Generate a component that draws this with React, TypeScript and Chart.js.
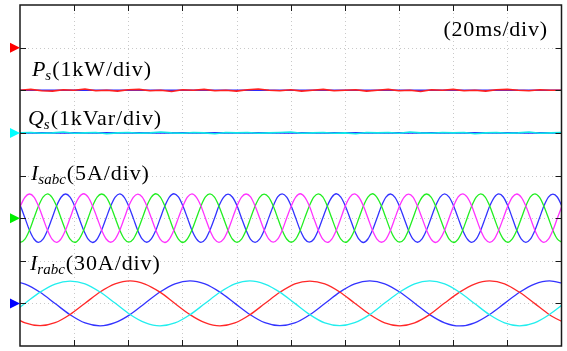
import React, { useEffect, useRef } from 'react';
import { Chart, registerables } from 'chart.js';

Chart.register(...registerables);

const W = 567;
const H = 351;

// ---- axes: 20 ms/div time base (10 div), 8 vertical divisions ----
const timeGridMs = [20, 40, 60, 80, 100, 120, 140, 160, 180];
const levelGridDiv = [-3, -2, -1, 0, 1, 2, 3];
const timeRangeMs = [0, 200];
const levelRangeDiv = [-4, 4];

// channel zero levels (in divisions) and units/div
const psZero = 3;   // Ps, 1 kW/div
const qsZero = 1;   // Qs, 1 kVar/div
const isZero = -1;  // Isabc, 5 A/div
const irZero = -3;  // Irabc, 30 A/div
const psPerDiv = 1;
const qsPerDiv = 1;
const isPerDiv = 5;
const irPerDiv = 30;

// ---- Ps / Qs (kW, kVar) sampled every 4 ms from 0 ms ----
const pqStartMs = 0;
const pqStepMs = 4;
const psMeasured = [
  -1.00, -0.98, -1.01, -1.02, -0.99, -1.00, -0.97, -1.01, -1.00, -1.02,
  -0.99, -0.98, -1.01, -1.00, -1.03, -0.99, -1.00, -0.98, -1.01, -1.00,
  -1.02, -0.99, -0.97, -1.00, -1.01, -0.99, -1.02, -1.00, -0.98, -1.01,
  -1.00, -0.99, -1.02, -1.00, -0.98, -1.01, -1.00, -1.03, -0.99, -1.00,
  -0.98, -1.01, -1.00, -1.02, -0.99, -0.98, -1.00, -1.01, -0.99, -1.00, -1.00,
];
const psReference = [-1.0, -1.0];
const psReferenceMs = [0, 200];
const qsMeasured = [
  0.00, 0.01, -0.01, 0.00, 0.02, -0.01, 0.00, 0.01, -0.02, 0.00,
  0.01, -0.01, 0.00, 0.02, 0.00, -0.01, 0.01, 0.00, -0.02, 0.01,
  0.00, 0.01, -0.01, 0.00, 0.01, 0.02, -0.01, 0.00, 0.01, -0.01,
  0.00, -0.02, 0.01, 0.00, 0.01, -0.01, 0.02, 0.00, -0.01, 0.01,
  0.00, 0.01, -0.02, 0.00, 0.01, -0.01, 0.00, 0.02, -0.01, 0.00, 0.01,
];
const qsReference = [0.0, 0.0];
const qsReferenceMs = [0, 200];

// ---- stator currents Isabc (A), sampled every 20/12 ms from -1.5 ms ----
const isStartMs = -1.5;
const isStepMs = 20 / 12;
const isPhaseA = [
  0.02, 1.43, 2.45, 2.83, 2.47, 1.41, -0.01, -1.43, -2.47, -2.85, -2.44, -1.40,
  0.01, 1.44, 2.47, 2.86, 2.45, 1.40, 0.02, -1.41, -2.45, -2.83, -2.46, -1.43,
  -0.02, 1.41, 2.44, 2.82, 2.46, 1.43, 0.01, -1.42, -2.48, -2.86, -2.45, -1.41,
  0.03, 1.42, 2.47, 2.85, 2.44, 1.42, -0.02, -1.44, -2.46, -2.84, -2.47, -1.42,
  0.00, 1.43, 2.46, 2.83, 2.48, 1.41, 0.01, -1.40, -2.44, -2.82, -2.46, -1.44,
  0.02, 1.40, 2.45, 2.86, 2.46, 1.44, -0.01, -1.42, -2.47, -2.85, -2.45, -1.41,
  -0.01, 1.44, 2.47, 2.84, 2.45, 1.42, 0.02, -1.43, -2.46, -2.83, -2.48, -1.42,
  0.01, 1.42, 2.44, 2.82, 2.47, 1.40, 0.00, -1.41, -2.45, -2.86, -2.44, -1.43,
  0.02, 1.43, 2.48, 2.85, 2.46, 1.43, -0.02, -1.44, -2.47, -2.84, -2.46, -1.40,
  -0.01, 1.41, 2.45, 2.83, 2.44, 1.41, 0.01, -1.42, -2.44, -2.85, -2.47, -1.42,
  0.02, 1.43,
];
const isPhaseB = [
  -2.45, -2.83, -2.47, -1.43, 0.01, 1.42, 2.46, 2.85, 2.44, 1.41, -0.02, -1.42,
  -2.47, -2.85, -2.45, -1.41, 0.02, 1.44, 2.47, 2.83, 2.46, 1.43, 0.01, -1.40,
  -2.44, -2.82, -2.46, -1.42, -0.01, 1.41, 2.45, 2.86, 2.47, 1.42, 0.00, -1.43,
  -2.46, -2.86, -2.44, -1.40, 0.02, 1.43, 2.48, 2.84, 2.45, 1.40, -0.01, -1.44,
  -2.48, -2.84, -2.47, -1.43, 0.00, 1.42, 2.44, 2.82, 2.46, 1.44, 0.02, -1.41,
  -2.45, -2.83, -2.46, -1.42, 0.01, 1.40, 2.46, 2.85, 2.48, 1.42, -0.02, -1.42,
  -2.46, -2.85, -2.45, -1.44, -0.02, 1.43, 2.47, 2.86, 2.44, 1.41, 0.01, -1.43,
  -2.44, -2.82, -2.48, -1.41, 0.01, 1.44, 2.45, 2.83, 2.46, 1.43, 0.00, -1.40,
  -2.47, -2.86, -2.46, -1.42, 0.02, 1.41, 2.46, 2.84, 2.47, 1.42, -0.01, -1.42,
  -2.45, -2.84, -2.44, -1.43, -0.01, 1.42, 2.48, 2.85, 2.45, 1.40, 0.02, -1.44,
  -2.46, -2.83,
];
const isPhaseC = [
  2.47, 1.41, 0.01, -1.43, -2.45, -2.84, -2.47, -1.42, -0.01, 1.43, 2.45, 2.83,
  2.46, 1.43, -0.02, -1.41, -2.47, -2.86, -2.45, -1.40, 0.02, 1.42, 2.47, 2.85,
  2.44, 1.40, 0.00, -1.44, -2.46, -2.83, -2.44, -1.43, 0.01, 1.41, 2.46, 2.86,
  2.48, 1.42, 0.02, -1.42, -2.44, -2.85, -2.47, -1.41, -0.02, 1.44, 2.44, 2.82,
  2.45, 1.44, -0.01, -1.40, -2.48, -2.84, -2.46, -1.44, 0.00, 1.40, 2.48, 2.84,
  2.46, 1.41, 0.01, -1.43, -2.45, -2.82, -2.48, -1.42, 0.01, 1.43, 2.45, 2.86,
  2.47, 1.43, 0.02, -1.41, -2.46, -2.86, -2.45, -1.43, -0.01, 1.42, 2.46, 2.83,
  2.44, 1.40, -0.01, -1.44, -2.47, -2.83, -2.44, -1.40, 0.02, 1.44, 2.47, 2.85,
  2.46, 1.42, 0.00, -1.42, -2.44, -2.85, -2.47, -1.41, 0.00, 1.41, 2.44, 2.84,
  2.48, 1.44, 0.02, -1.43, -2.46, -2.84, -2.46, -1.44, -0.02, 1.42, 2.46, 2.82,
  2.45, 1.41,
];

// ---- rotor currents Irabc (A), sampled every 66.4/12 ms from -3.63 ms ----
const irStartMs = -3.63;
const irStepMs = 66.4 / 12;
const irPhaseA = [
  -7.8, 0.1, 7.9, 13.6, 15.7, 13.8, 8.0, 0.2, -7.8, -13.6, -15.9, -13.8,
  -8.0, -0.1, 7.8, 13.7, 15.9, 13.6, 7.9, 0.0, -7.9, -13.8, -15.7, -13.6,
  -7.9, 0.2, 8.0, 13.8, 15.8, 13.7, 7.8, -0.1, -8.0, -13.7, -15.8, -13.7,
  -7.8, 0.1,
];
const irPhaseB = [
  -8.0, -13.8, -15.7, -13.6, -7.8, 0.1, 8.0, 13.7, 15.9, 13.6, 7.9, -0.1,
  -7.9, -13.6, -15.9, -13.8, -8.0, -0.1, 7.8, 13.8, 15.7, 13.7, 8.0, 0.1,
  -7.8, -13.7, -15.8, -13.7, -7.9, 0.2, 7.9, 13.6, 15.8, 13.8, 7.8, 0.0,
  -8.0, -13.7,
];
const irPhaseC = [
  15.7, 13.6, 7.8, -0.1, -8.0, -13.8, -15.8, -13.6, -7.9, 0.1, 8.0, 13.8,
  15.9, 13.7, 7.9, 0.0, -7.8, -13.6, -15.7, -13.8, -8.0, -0.1, 7.9, 13.7,
  15.8, 13.8, 8.0, 0.1, -7.9, -13.7, -15.9, -13.7, -7.8, 0.0, 7.8, 13.6,
  15.8, 13.7,
];

// ---- text ----
const channelLabels = [
  { main: 'P', sub: 's', rest: '(1kW/div)', tMs: 4.4, yDiv: 2.334 },
  { main: 'Q', sub: 's', rest: '(1kVar/div)', tMs: 2.95, yDiv: 1.185 },
  { main: 'I', sub: 'sabc', rest: '(5A/div)', tMs: 4.06, yDiv: -0.106 },
  { main: 'I', sub: 'rabc', rest: '(30A/div)', tMs: 3.69, yDiv: -2.217 },
];
const timeBaseLabel = { text: '(20ms/div)', tMs: 195.0, yDiv: 3.273 };
const markers = [
  { level: psZero, color: '#ff0000' },
  { level: qsZero, color: '#00ffff' },
  { level: isZero, color: '#00ee00' },
  { level: irZero, color: '#0000ff' },
];

const FONT = '"Liberation Serif", "Times New Roman", serif';

function uniform(values: number[], start: number, step: number, zero: number, perDiv: number) {
  return values.map((v, i) => ({ x: start + i * step, y: zero + v / perDiv }));
}
function paired(values: number[], times: number[], zero: number, perDiv: number) {
  return values.map((v, i) => ({ x: times[i], y: zero + v / perDiv }));
}

const scopePlugin = {
  id: 'scope',
  beforeDatasetsDraw(chart: any) {
    const { ctx, chartArea: a, scales } = chart;
    ctx.save();
    ctx.strokeStyle = '#c9c9c9';
    ctx.lineWidth = 1;
    ctx.setLineDash([1, 3]);
    for (const t of timeGridMs) {
      const x = Math.round(scales.x.getPixelForValue(t)) + 0.5;
      ctx.beginPath();
      ctx.moveTo(x, a.top);
      ctx.lineTo(x, a.bottom);
      ctx.stroke();
    }
    for (const l of levelGridDiv) {
      const y = Math.round(scales.y.getPixelForValue(l)) + 0.5;
      ctx.beginPath();
      ctx.moveTo(a.left, y);
      ctx.lineTo(a.right, y);
      ctx.stroke();
    }
    ctx.restore();
  },
  afterDatasetsDraw(chart: any) {
    const { ctx, chartArea: a, scales } = chart;
    ctx.save();
    ctx.setLineDash([]);
    ctx.strokeStyle = '#1a1a1a';
    ctx.lineWidth = 1.5;
    ctx.strokeRect(a.left, a.top, a.right - a.left, a.bottom - a.top);
    ctx.lineWidth = 1;
    const tl = 6;
    for (const t of timeGridMs) {
      const x = Math.round(scales.x.getPixelForValue(t)) + 0.5;
      ctx.beginPath();
      ctx.moveTo(x, a.top);
      ctx.lineTo(x, a.top + tl);
      ctx.moveTo(x, a.bottom);
      ctx.lineTo(x, a.bottom - tl);
      ctx.stroke();
    }
    for (const l of levelGridDiv) {
      const y = Math.round(scales.y.getPixelForValue(l)) + 0.5;
      ctx.beginPath();
      ctx.moveTo(a.left, y);
      ctx.lineTo(a.left + tl, y);
      ctx.moveTo(a.right, y);
      ctx.lineTo(a.right - tl, y);
      ctx.stroke();
    }
    for (const m of markers) {
      const y = scales.y.getPixelForValue(m.level);
      ctx.fillStyle = m.color;
      ctx.beginPath();
      ctx.moveTo(a.left, y);
      ctx.lineTo(a.left - 10, y - 5);
      ctx.lineTo(a.left - 10, y + 5);
      ctx.closePath();
      ctx.fill();
    }
    ctx.fillStyle = '#000';
    ctx.textBaseline = 'alphabetic';
    const size = 22;
    for (const lb of channelLabels) {
      let x = scales.x.getPixelForValue(lb.tMs);
      const y = scales.y.getPixelForValue(lb.yDiv);
      ctx.textAlign = 'left';
      (ctx as any).letterSpacing = '0px';
      ctx.font = `italic ${size}px ${FONT}`;
      ctx.fillText(lb.main, x, y);
      x += ctx.measureText(lb.main).width;
      ctx.font = `italic ${Math.round(size * 0.7)}px ${FONT}`;
      ctx.fillText(lb.sub, x, y + 4);
      x += ctx.measureText(lb.sub).width + 1;
      ctx.font = `${size}px ${FONT}`;
      (ctx as any).letterSpacing = '0.9px';
      ctx.fillText(lb.rest, x, y);
    }
    ctx.font = `${size}px ${FONT}`;
    (ctx as any).letterSpacing = '0.8px';
    ctx.textAlign = 'right';
    ctx.fillText(
      timeBaseLabel.text,
      scales.x.getPixelForValue(timeBaseLabel.tMs),
      scales.y.getPixelForValue(timeBaseLabel.yDiv)
    );
    ctx.restore();
  },
};

export default function App() {
  const ref = useRef<HTMLCanvasElement>(null);
  useEffect(() => {
    const sine = { pointRadius: 0, borderWidth: 1.3, cubicInterpolationMode: 'monotone' as const, clip: 0 };
    const flat = { pointRadius: 0, borderWidth: 1.6, tension: 0, clip: 0 };
    const chart = new Chart(ref.current!, {
      type: 'line',
      data: {
        datasets: [
          { ...flat, label: 'Ps', data: uniform(psMeasured, pqStartMs, pqStepMs, psZero, psPerDiv), borderColor: '#ff2020' },
          { ...flat, label: 'Ps*', data: paired(psReference, psReferenceMs, psZero, psPerDiv), borderColor: '#2a2aff' },
          { ...flat, label: 'Qs', data: uniform(qsMeasured, pqStartMs, pqStepMs, qsZero, qsPerDiv), borderColor: '#10e8e8' },
          { ...flat, label: 'Qs*', data: paired(qsReference, qsReferenceMs, qsZero, qsPerDiv), borderColor: '#2a2aff' },
          { ...sine, label: 'Isa', data: uniform(isPhaseA, isStartMs, isStepMs, isZero, isPerDiv), borderColor: '#ff33ff' },
          { ...sine, label: 'Isb', data: uniform(isPhaseB, isStartMs, isStepMs, isZero, isPerDiv), borderColor: '#22ee22' },
          { ...sine, label: 'Isc', data: uniform(isPhaseC, isStartMs, isStepMs, isZero, isPerDiv), borderColor: '#3333ff' },
          { ...sine, label: 'Ira', data: uniform(irPhaseA, irStartMs, irStepMs, irZero, irPerDiv), borderColor: '#22eeee' },
          { ...sine, label: 'Irb', data: uniform(irPhaseB, irStartMs, irStepMs, irZero, irPerDiv), borderColor: '#ff2828' },
          { ...sine, label: 'Irc', data: uniform(irPhaseC, irStartMs, irStepMs, irZero, irPerDiv), borderColor: '#3333ff' },
        ],
      },
      options: {
        responsive: false,
        animation: false,
        events: [],
        layout: { padding: { left: 20, top: 5, right: 5.5, bottom: 5 } },
        plugins: { legend: { display: false }, tooltip: { enabled: false } },
        scales: {
          x: { type: 'linear', display: false, min: timeRangeMs[0], max: timeRangeMs[1] },
          y: { type: 'linear', display: false, min: levelRangeDiv[0], max: levelRangeDiv[1] },
        },
      },
      plugins: [scopePlugin],
    });
    return () => chart.destroy();
  }, []);
  return (
    <div style={{ position: 'fixed', left: 0, top: 0, width: W, height: H, background: '#fff' }}>
      <canvas ref={ref} width={W} height={H} style={{ width: W, height: H, display: 'block' }} />
    </div>
  );
}
